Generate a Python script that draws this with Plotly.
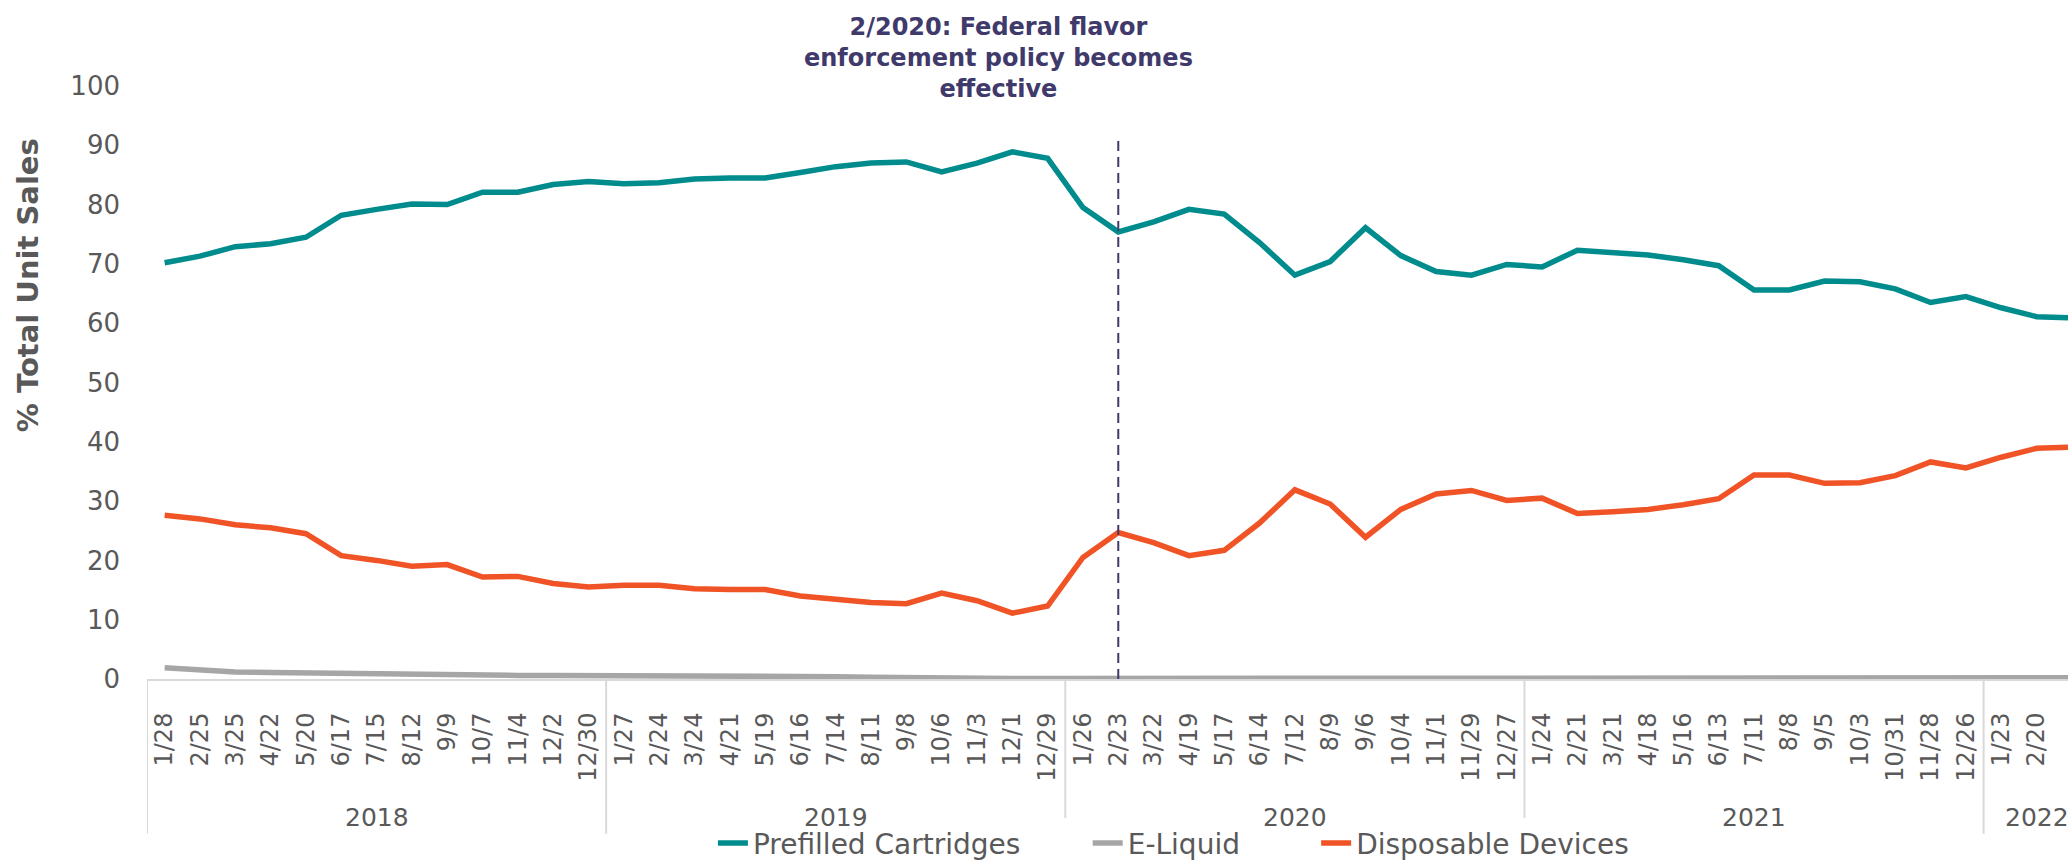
import plotly.graph_objects as go

dates = ["1/28", "2/25", "3/25", "4/22", "5/20", "6/17", "7/15", "8/12", "9/9", "10/7", "11/4", "12/2", "12/30",
         "1/27", "2/24", "3/24", "4/21", "5/19", "6/16", "7/14", "8/11", "9/8", "10/6", "11/3", "12/1", "12/29",
         "1/26", "2/23", "3/22", "4/19", "5/17", "6/14", "7/12", "8/9", "9/6", "10/4", "11/1", "11/29", "12/27",
         "1/24", "2/21", "3/21", "4/18", "5/16", "6/13", "7/11", "8/8", "9/5", "10/3", "10/31", "11/28", "12/26",
         "1/23", "2/20", "3/20"]
years = ["2018", "2019", "2020", "2021", "2022"]
year_counts = [13, 13, 13, 13, 3]

prefilled = [70.2, 71.3, 72.9, 73.4, 74.5, 78.2, 79.2, 80.1, 80.0, 82.1, 82.1, 83.4, 83.9,
             83.5, 83.7, 84.3, 84.5, 84.5, 85.4, 86.4, 87.0, 87.2, 85.5, 87.0, 88.9, 87.8,
             79.5, 75.4, 77.1, 79.2, 78.4, 73.6, 68.1, 70.4, 76.1, 71.4, 68.7, 68.1, 69.9,
             69.5, 72.3, 71.9, 71.5, 70.7, 69.7, 65.6, 65.6, 67.1, 67.0, 65.8, 63.5, 64.5,
             62.6, 61.1, 60.9]
eliquid = [1.9, 1.5, 1.2, 1.1, 1.0, 0.9, 0.8, 0.8, 0.7, 0.7, 0.6, 0.6, 0.6,
           0.6, 0.5, 0.4, 0.4, 0.4, 0.6, 0.4, 0.3, 0.2, 0.2, 0.1, 0.1, 0.1,
           0.1, 0.1, 0.1, 0.1, 0.1, 0.1, 0.1, 0.1, 0.1, 0.1, 0.1, 0.1, 0.1,
           0.1, 0.1, 0.1, 0.1, 0.1, 0.1, 0.1, 0.1, 0.1, 0.1, 0.1, 0.1, 0.1,
           0.1, 0.1, 0.2]
disposable = [27.6, 27.0, 26.0, 25.5, 24.5, 20.8, 20.0, 19.0, 19.3, 17.2, 17.3, 16.1, 15.5,
              15.8, 15.8, 15.2, 15.1, 15.1, 14.0, 13.4, 12.9, 12.7, 14.5, 13.2, 11.1, 12.3,
              20.5, 24.7, 23.0, 20.8, 21.7, 26.3, 31.9, 29.5, 23.9, 28.6, 31.2, 31.8, 30.1,
              30.5, 27.9, 28.2, 28.6, 29.4, 30.4, 34.4, 34.4, 33.0, 33.1, 34.3, 36.6, 35.6,
              37.4, 38.9, 39.1]

series_names = ["Prefilled Cartridges", "E-Liquid", "Disposable Devices"]
series_colors = ["#008B8D", "#A6A6A6", "#F05326"]
event_date = "2/23"
event_text = "2/2020: Federal flavor<br>enforcement policy becomes<br>effective"
y_title = "% Total Unit Sales"

FONT = "'DejaVu Sans', sans-serif"
GREY = "#595959"
PURPLE = "#403A6B"
PADS = ["\u00a0" * 7, "\u00a0" * 8, ""]

fig = go.Figure()
for name, vals, col, pad in zip(series_names, [prefilled, eliquid, disposable], series_colors, PADS):
    fig.add_trace(go.Scatter(x=dates, y=vals, mode="lines", name=name + pad,
                             line=dict(color=col, width=5.5), cliponaxis=True))

# event line
fig.add_shape(type="line", xref="x", yref="y", x0=event_date, x1=event_date, y0=0, y1=91.6,
              line=dict(color=PURPLE, width=2, dash="10px,6px"))
fig.add_annotation(xref="x", yref="paper", x=23.6, y=1.047, text="<b>" + event_text + "</b>",
                   showarrow=False, xanchor="center", yanchor="middle",
                   font=dict(family=FONT, size=24, color=PURPLE), align="center")

# year group dividers & labels
start = 0
for yr, n in zip(years, year_counts):
    fig.add_shape(type="line", xref="x", yref="paper", x0=start - 0.5, x1=start - 0.5, y0=0, y1=-0.261,
                  line=dict(color="#D9D9D9", width=2))
    fig.add_annotation(xref="x", yref="paper", x=start + (n - 1) / 2, y=-0.233, text=yr,
                       showarrow=False, xanchor="center", yanchor="middle",
                       font=dict(family=FONT, size=25, color=GREY))
    start += n

# y title
fig.add_annotation(xref="paper", yref="paper", x=-0.062, y=0.664, text="<b>" + y_title + "</b>",
                   textangle=-90, showarrow=False, xanchor="center", yanchor="middle",
                   font=dict(family=FONT, size=29, color=GREY))

fig.update_layout(
    width=2068, height=868,
    margin=dict(l=147, r=0, t=86, b=189, autoexpand=False),
    paper_bgcolor="white", plot_bgcolor="white",
    font=dict(family=FONT, color=GREY),
    showlegend=True,
    legend=dict(orientation="h", x=0.2946, xanchor="left", y=-0.277, yanchor="middle",
                font=dict(family=FONT, size=28, color=GREY), itemwidth=30),
    xaxis=dict(type="category", range=[-0.5, 53.89], showgrid=False, zeroline=False,
               showline=True, linecolor="#D9D9D9", linewidth=2,
               tickangle=-90, tickfont=dict(family=FONT, size=24, color=GREY),
               ticks="", ticklabelstandoff=22),
    yaxis=dict(range=[0, 100], dtick=10, showgrid=False, zeroline=False, showline=False,
               tickfont=dict(family=FONT, size=26, color=GREY), ticks="", ticklabelstandoff=26),
)

fig.write_html("out.html", config={"displayModeBar": False},
               post_script="document.body.style.margin='0px';document.body.style.overflow='hidden';")
